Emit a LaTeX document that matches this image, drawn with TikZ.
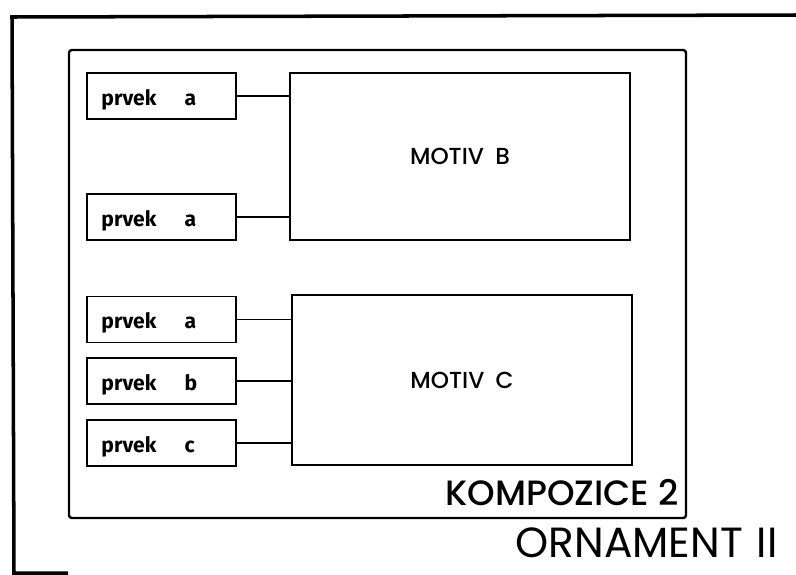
\documentclass[tikz,border=0pt]{standalone}
\usepackage{fontspec}
\setmainfont{Fira Sans}
\newfontfamily\titlefont{Poppins}[UprightFont=* Medium]
\newfontfamily\bigfont{Poppins}
\usetikzlibrary{positioning}
\tikzset{
  prvekbox/.style={draw, line width=1.3pt, minimum width=3.73cm, minimum height=1.15cm, text width=3.0cm, align=left, inner xsep=0.37cm, text height=12.8pt, text depth=0pt, font=\fontsize{15}{17}\selectfont\bfseries},
  motivbox/.style={draw, line width=1.2pt, minimum width=8.5cm, font=\titlefont\fontsize{16.5}{19}\selectfont},
  spoj/.style={line width=0.8pt},
}

\begin{document}
\begin{tikzpicture}[x=0.025cm, y=-0.025cm]
    \useasboundingbox (0,0) rectangle (796,574);

    % Ornament frame - runs off the page on the right
    \draw[line width=2.5pt] (796,15) -- (12,17) -- (14,573) -- (68,573);

    % Composition frame
    \draw[line width=1.7pt, rounded corners=2pt] (69,50) rectangle (686,518);

    % Motiv B - upper box
    \node[motivbox, minimum height=4.18cm] (motivB) at (460,156.5) {MOTIV\hspace{8pt}B};
    \node[prvekbox] (pa1) at (161.5,96) {prvek\hspace{20pt}a};
    \node[prvekbox] (pa2) at (161.5,217) {prvek\hspace{20pt}a};

    % Motiv C - lower box
    \node[motivbox, minimum height=4.25cm] (motivC) at (462,380) {MOTIV\hspace{8pt}C};
    \node[prvekbox] (pa3) at (161.5,319.5) {prvek\hspace{20pt}a};
    \node[prvekbox] (pb) at (161.5,381) {prvek\hspace{20pt}b};
    \node[prvekbox] (pc) at (161.5,443) {prvek\hspace{20pt}c};

    % Connectors
    \draw[spoj] (pa1.east) -- (pa1.east -| motivB.west);
    \draw[spoj] (pa2.east) -- (pa2.east -| motivB.west);
    \draw[spoj] (pa3.east) -- (pa3.east -| motivC.west);
    \draw[spoj] (pb.east) -- (pb.east -| motivC.west);
    \draw[spoj] (pc.east) -- (pc.east -| motivC.west);

    % Titles
    \node[anchor=base east, inner sep=0pt, font=\titlefont\fontsize{25}{28}\selectfont] (kompozice) at (679,505) {KOMPOZICE 2};
    \node[anchor=base east, inner sep=0pt, font=\bigfont\fontsize{30}{34}\selectfont] (ornament) at (778,557) {ORNAMENT\hspace{10pt}II};
\end{tikzpicture}
\end{document}
